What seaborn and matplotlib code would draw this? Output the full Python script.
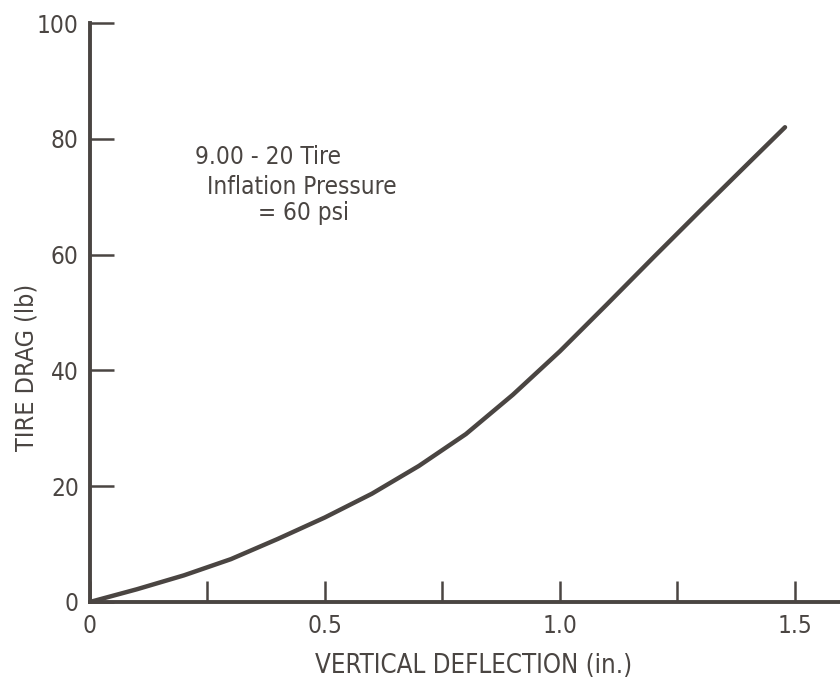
import matplotlib
matplotlib.use("Agg")
import matplotlib.pyplot as plt
import seaborn as sns
import pandas as pd

# Data
deflection = [0.0, 0.1, 0.2, 0.3, 0.4, 0.5, 0.6, 0.7, 0.8, 0.9, 1.0, 1.1, 1.2, 1.3, 1.4, 1.479]
drag = [0.0, 2.2, 4.6, 7.4, 10.9, 14.6, 18.7, 23.5, 29.0, 35.8, 43.3, 51.4, 59.6, 67.7, 75.7, 82.0]
x_major = [0, 0.5, 1.0, 1.5]
x_major_labels = ["0", "0.5", "1.0", "1.5"]
x_minor = [0.25, 0.75, 1.25]
y_ticks = [0, 20, 40, 60, 80, 100]
annotation_lines = ["9.00 - 20 Tire", "Inflation Pressure", "= 60 psi"]

INK = "#4a4542"

sns.set_theme(style="white")
plt.rcParams["font.family"] = ["DejaVu Sans"]
plt.rcParams["font.stretch"] = "condensed"

fig = plt.figure(figsize=(8.4, 6.83), dpi=100)
ax = fig.add_axes([0.107, 0.1186, 0.893, 0.8477])

df = pd.DataFrame({"deflection": deflection, "drag": drag})
sns.lineplot(data=df, x="deflection", y="drag", ax=ax, color=INK, linewidth=3.2,
             solid_capstyle="round", solid_joinstyle="round")

ax.set_xlim(0, 1.596)
ax.set_ylim(0, 100)

for side in ["top", "right"]:
    ax.spines[side].set_visible(False)
for side in ["left", "bottom"]:
    ax.spines[side].set_color(INK)
    ax.spines[side].set_linewidth(2.8)

ax.set_xticks(x_major)
ax.set_xticklabels(x_major_labels)
ax.set_xticks(x_minor, minor=True)
ax.set_yticks(y_ticks)
ax.set_yticklabels([str(v) for v in y_ticks])

ax.tick_params(axis="x", which="both", direction="in", length=15, width=1.8,
               color=INK, labelcolor=INK, labelsize=17.5, pad=9, bottom=True)
ax.tick_params(axis="y", which="both", direction="in", length=17, width=1.8,
               color=INK, labelcolor=INK, labelsize=17.5, pad=8, left=True)

ax.set_xlabel("VERTICAL DEFLECTION (in.)", fontsize=18.5, color=INK)
ax.set_ylabel("TIRE DRAG (lb)", fontsize=18, color=INK)
ax.xaxis.set_label_coords(0.512, -0.088)
ax.yaxis.set_label_coords(-0.069, 0.406)

ax.text(0.223, 76.9, annotation_lines[0], fontsize=17.5, color=INK, va="center", ha="left")
ax.text(0.25, 71.7, annotation_lines[1], fontsize=17.5, color=INK, va="center", ha="left")
ax.text(0.357, 67.2, annotation_lines[2], fontsize=17.5, color=INK, va="center", ha="left")

ax.grid(False)
fig.savefig("out.png", dpi=100, facecolor="white")
